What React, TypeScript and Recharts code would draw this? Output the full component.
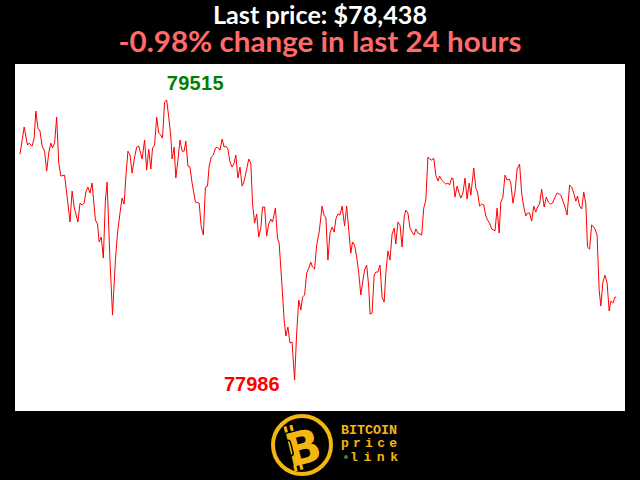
import React from "react";
import { LineChart, Line, XAxis, YAxis, LabelList } from "recharts";

// minutes since start of the 24h window
const times: number[] = [
  0, 10, 18, 22, 29, 34, 38, 43, 48, 53, 59, 64, 69, 74, 78, 83, 88, 93, 98, 107,
  114, 120, 125, 130, 139, 144, 149, 154, 158, 163, 168, 173, 181, 186, 190, 195, 200, 205, 209, 216,
  222, 229, 234, 240, 245, 250, 254, 259, 264, 269, 275, 280, 285, 293, 299, 304, 309, 314, 318, 323,
  328, 333, 338, 342, 347, 352, 357, 362, 365, 370, 374, 379, 384, 389, 394, 398, 403, 408, 413, 421,
  430, 435, 440, 445, 450, 454, 459, 464, 469, 474, 480,
  485, 490, 494, 499, 504, 509, 514, 518, 523, 528, 533, 538, 542, 549, 554, 558, 563, 568, 573, 578,
  582, 587, 592, 597, 602, 606, 613, 618, 622, 629, 634, 638, 643, 648, 653, 659, 664, 669, 674, 678,
  683, 688, 693, 698, 702, 707, 712, 718, 725, 730, 734, 739, 744, 749, 754, 758, 763, 768, 773, 779,
  784, 789, 794, 798, 803, 808, 813, 818, 822, 827, 832, 837, 840, 845, 850, 854, 859, 864, 869, 874,
  878, 883, 888, 893, 898, 902, 907, 912, 917, 922, 926, 931, 936, 941, 946, 950, 955, 960,
  964, 969, 974, 979, 983, 988, 993, 998, 1003, 1007, 1012, 1017, 1022, 1027, 1031, 1036, 1039, 1044, 1049, 1054,
  1058, 1063, 1068, 1073, 1078, 1082, 1089, 1094, 1098, 1103, 1108, 1113, 1118, 1122, 1127, 1132, 1137, 1140, 1145, 1150,
  1154, 1159, 1164, 1169, 1174, 1178, 1183, 1188, 1193, 1199, 1204, 1209, 1214, 1218, 1223, 1228, 1233, 1238, 1242, 1247,
  1252, 1258, 1263, 1268, 1273, 1278, 1284, 1289, 1294, 1298, 1303, 1308, 1313, 1319, 1324, 1329, 1334, 1338, 1343, 1348,
  1353, 1358, 1362, 1367, 1372, 1377, 1380, 1385, 1390, 1394, 1399, 1404, 1409, 1414, 1418, 1423, 1428, 1431,
];

// BTC price in USD
const prices: number[] = [
  79220, 79368, 79269, 79280, 79264, 79307, 79455, 79362, 79346, 79264, 79236, 79127, 79226, 79280, 79253, 79280, 79422, 79171, 79100, 79105,
  78969, 78849, 79018, 78931, 78849, 78952, 78942, 78952, 79013, 79040, 79007, 79062, 78860, 78838, 78740, 78767, 78652, 78969, 79067, 78641,
  78341, 78641, 78789, 78898, 78980, 78947, 79095, 79236, 79215, 79116, 79204, 79258, 79264, 79193, 79297, 79133, 79247, 79138, 79253, 79269,
  79422, 79335, 79324, 79307, 79504, 79515, 79422, 79313, 79193, 79258, 79089, 79187, 79297, 79236, 79236, 79291, 79155, 79149, 79062, 78958,
  78952, 78822, 78778, 79040, 79045, 79155, 79204, 79215, 79253, 79258, 79242,
  79302, 79258, 79264, 79247, 79176, 79149, 79171, 79215, 79089, 79149, 79045, 79073, 79116, 79193, 79171, 78952, 78843, 78893, 78767, 78816,
  78931, 78931, 78772, 78838, 78865, 78849, 78925, 78761, 78734, 78494, 78314, 78226, 78275, 78188, 78193, 77986, 78243, 78423, 78368, 78439,
  78450, 78570, 78597, 78630, 78603, 78592, 78723, 78794, 78936, 78882, 78876, 78641, 78789, 78822, 78794, 78865, 78893, 78887, 78936, 78827,
  78936, 78805, 78679, 78740, 78723, 78658, 78570, 78450, 78516, 78587, 78614, 78494, 78346, 78352, 78559, 78576, 78576, 78614, 78439, 78412,
  78570, 78691, 78641, 78783, 78816, 78729, 78849, 78833, 78712, 78876, 78914, 78898, 78816, 78794, 78778, 78811, 78789, 78783,
  78778, 78925, 78969, 79204, 79193, 79187, 79198, 79105, 79073, 79100, 79078, 79067, 79056, 79062, 79051, 79089, 79089, 78985, 79045, 79007,
  78980, 79007, 79089, 78974, 79062, 78996, 79144, 79034, 79013, 78936, 78947, 78942, 78882, 78860, 78843, 78811, 78805, 78800, 78925, 78789,
  78958, 78985, 79105, 79078, 79084, 79062, 78952, 79013, 79138, 79166, 79007, 78931, 78882, 78898, 78898, 78854, 78936, 78903, 78931, 78947,
  79029, 78931, 78985, 78958, 78947, 78952, 78985, 79007, 79002, 78996, 78963, 78931, 78887, 79051, 79040, 79007, 78963, 78991, 78936, 78920,
  79013, 78947, 78712, 78701, 78833, 78822, 78811, 78778, 78477, 78390, 78521, 78559, 78516, 78363, 78417, 78406, 78439, 78438,
];

const titleLine1 = "Last price: $78,438";
const titleLine2 = "-0.98% change in last 24 hours";
const logoLines = ["BITCOIN", "price", "link"];
const xDomain: [number, number] = [-12, 1452];
const yDomain: [number, number] = [77817, 79712];

const data = times.map((t, i) => ({ t, price: prices[i] }));
const maxIdx = prices.indexOf(Math.max(...prices));
const minIdx = prices.indexOf(Math.min(...prices));

const ExtremeLabel = (props: any) => {
  const { x, y, index, value } = props;
  if (index === maxIdx) {
    return (
      <text x={x} y={y - 10} textAnchor="start" fill="#008000" fontSize={20} fontWeight="bold" fontFamily="Liberation Sans, Arial, sans-serif" textLength={57}>
        {value}
      </text>
    );
  }
  if (index === minIdx) {
    return (
      <text x={x - 15} y={y + 11} textAnchor="end" fill="#ff0000" fontSize={20} fontWeight="bold" fontFamily="Liberation Sans, Arial, sans-serif">
        {value}
      </text>
    );
  }
  return null;
};

const Logo = () => (
  <svg width={150} height={70} style={{ position: "absolute", left: 265, top: 410 }}>
    <circle cx={37} cy={35} r={29} fill="#000" stroke="#f4b70f" strokeWidth={4} />
    <g transform="rotate(-14 37 37)">
      <rect x={24} y={13} width={3} height={6} fill="#f4b70f" />
      <rect x={30} y={13} width={3} height={6} fill="#f4b70f" />
      <rect x={24} y={53} width={3} height={6} fill="#f4b70f" />
      <rect x={30} y={53} width={3} height={6} fill="#f4b70f" />
      <text x={38} y={54} textAnchor="middle" fill="#f4b70f" fontSize={46} fontWeight={900} fontFamily="DejaVu Sans, sans-serif">
        B
      </text>
      <rect x={21} y={27} width={6} height={16} rx={3} fill="none" stroke="#000" strokeWidth={1.5} />
    </g>
    <g fontFamily="Liberation Mono, DejaVu Sans Mono, monospace" fontWeight="bold" fontSize={13} fill="#f4b70f">
      <text x={76} y={24} textLength={56} lengthAdjust="spacingAndGlyphs">{logoLines[0]}</text>
      <text x={76} y={37} textLength={56} lengthAdjust="spacing">{logoLines[1]}</text>
      <text x={85} y={51} textLength={48} lengthAdjust="spacing">{logoLines[2]}</text>
    </g>
    <circle cx={81} cy={47} r={2} fill="#2e8b2e" />
  </svg>
);

export default function App() {
  return (
    <div style={{ position: "fixed", left: 0, top: 0, width: 640, height: 480, background: "#000", overflow: "hidden" }}>
      <svg width={640} height={64} style={{ position: "absolute", left: 0, top: 0 }}>
        <text x={320} y={24} textAnchor="middle" fill="#ffffff" fontSize={24} fontWeight="bold" fontFamily="Lato, sans-serif" textLength={214} lengthAdjust="spacingAndGlyphs">
          {titleLine1}
        </text>
        <text x={320} y={52} textAnchor="middle" fill="#ff6b6b" fontSize={28} fontWeight="bold" fontFamily="Lato, sans-serif" textLength={403} lengthAdjust="spacingAndGlyphs">
          {titleLine2}
        </text>
      </svg>
      <div style={{ position: "absolute", left: 15, top: 64, width: 610, height: 347, background: "#fff" }}>
        <LineChart width={610} height={347} data={data} margin={{ top: 0, right: 0, bottom: 0, left: 0 }}>
          <XAxis dataKey="t" type="number" domain={xDomain} hide />
          <YAxis type="number" domain={yDomain} hide allowDataOverflow />
          <Line type="linear" dataKey="price" stroke="#ff0000" strokeWidth={1} dot={false} isAnimationActive={false}>
            <LabelList dataKey="price" content={<ExtremeLabel />} />
          </Line>
        </LineChart>
      </div>
      <Logo />
    </div>
  );
}
